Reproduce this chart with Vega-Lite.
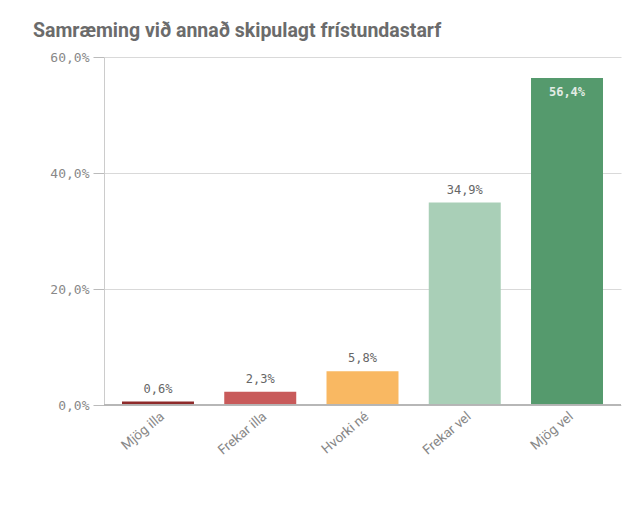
{
  "$schema": "https://vega.github.io/schema/vega-lite/v6.json",
  "width": 517,
  "height": 348,
  "autosize": {"type": "none"},
  "padding": {"left": 104, "top": 57, "right": 8, "bottom": 100},
  "background": "white",
  "config": {
    "locale": {"number": {"decimal": ",", "thousands": ".", "grouping": [3], "currency": ["", " kr"]}},
    "view": {"stroke": null}
  },
  "title": {
    "text": "Samræming við annað skipulagt frístundastarf",
    "anchor": "start",
    "frame": "group",
    "dx": -71,
    "offset": 10,
    "font": "Roboto",
    "fontSize": 19.5,
    "fontWeight": "bold",
    "color": "#6b6b6b"
  },
  "data": {
    "values": [
      {"cat": "Mjög illa", "value": 0.006},
      {"cat": "Frekar illa", "value": 0.023},
      {"cat": "Hvorki né", "value": 0.058},
      {"cat": "Frekar vel", "value": 0.349},
      {"cat": "Mjög vel", "value": 0.564}
    ]
  },
  "encoding": {
    "x": {
      "field": "cat",
      "type": "nominal",
      "sort": null,
      "scale": {"paddingInner": 0.296, "paddingOuter": 0.176},
      "axis": {
        "title": null,
        "labelAngle": -40,
        "labelAlign": "right",
        "labelBaseline": "top",
        "labelFont": "Roboto",
        "labelFontSize": 13.5,
        "labelColor": "#888888",
        "labelPadding": 4,
        "ticks": false,
        "domain": false
      }
    },
    "y": {
      "field": "value",
      "type": "quantitative",
      "scale": {"domain": [0, 0.6]},
      "axis": {
        "title": null,
        "values": [0, 0.2, 0.4, 0.6],
        "format": ".1%",
        "labelFont": "DejaVu Sans Mono",
        "labelFontSize": 13,
        "labelColor": "#888888",
        "labelPadding": 4,
        "tickSize": 11,
        "tickColor": "#bbbbbb",
        "gridColor": "#d9d9d9",
        "domainColor": "#cccccc"
      }
    }
  },
  "layer": [
    {
      "mark": {"type": "bar"},
      "encoding": {
        "color": {
          "field": "cat",
          "type": "nominal",
          "sort": null,
          "scale": {
            "domain": ["Mjög illa", "Frekar illa", "Hvorki né", "Frekar vel", "Mjög vel"],
            "range": ["#8e2a2a", "#c85a5a", "#f9b862", "#a9cfb7", "#559a6d"]
          },
          "legend": null
        }
      }
    },
    {
      "mark": {"type": "rule", "color": "#b5b5b5", "strokeWidth": 1},
      "encoding": {"y": {"datum": 0}, "x": null}
    },
    {
      "transform": [{"filter": "datum.value < 0.5"}],
      "mark": {"type": "text", "baseline": "bottom", "dy": -6, "font": "DejaVu Sans Mono", "fontSize": 12, "color": "#666666"},
      "encoding": {"text": {"field": "value", "type": "quantitative", "format": ".1%"}}
    },
    {
      "transform": [{"filter": "datum.value >= 0.5"}],
      "mark": {"type": "text", "baseline": "top", "dy": 9, "font": "DejaVu Sans Mono", "fontSize": 12, "fontWeight": "bold", "color": "#e3ece5"},
      "encoding": {"text": {"field": "value", "type": "quantitative", "format": ".1%"}}
    }
  ]
}
